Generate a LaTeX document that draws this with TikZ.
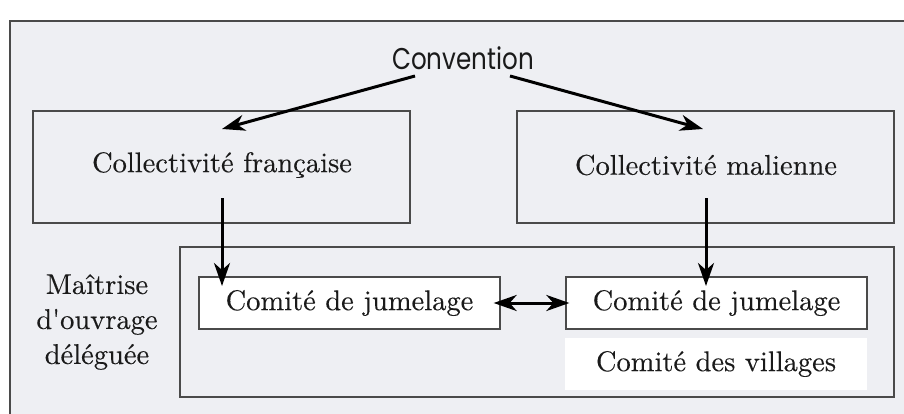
\documentclass[tikz,border=0pt]{standalone}
\usepackage{fontspec}
\setmainfont{lmroman10-regular.otf}[FakeBold=0.25]
\newfontfamily\convfont{Poppins}
\usetikzlibrary{arrows.meta}
\definecolor{panel}{HTML}{EEEFF3}
\definecolor{rule}{HTML}{4A4A4A}
\definecolor{ink}{HTML}{1A1A1A}
\tikzset{
  boxframe/.style={draw=rule, line width=1.3pt},
  whitebox/.style={draw=rule, line width=1.3pt, fill=white},
  serif/.style={text=ink, font=\fontsize{28.5}{34}\selectfont},
  arr/.style={draw=black, line width=3pt, -{Stealth[length=23pt,width=16pt,inset=7pt]}},
  dblarr/.style={draw=black, line width=3pt, {Stealth[length=23pt,width=16pt,inset=7pt]}-{Stealth[length=23pt,width=16pt,inset=7pt]}}
}
\begin{document}
\begin{tikzpicture}[x=1pt,y=-1pt]
\useasboundingbox (0,0) rectangle (904,414);
\clip (0,0) rectangle (904,414);
% page backdrop and outer panel
\fill[white] (0,0) rectangle (904,414);
\filldraw[fill=panel, draw=rule, line width=1.3pt] (10,21) rectangle (920,430);

% title
\node[text=ink, font=\convfont\fontsize{30}{34}\selectfont] (conv) at (463,58) {\scalebox{0.82}[1]{Convention}};

% the two local authorities
\draw[boxframe] (33,111) rectangle (410,223);
\node[serif] (fr) at (222,165) {Collectivité française};
\draw[boxframe] (517,111) rectangle (894,223);
\node[serif] (ml) at (706,165) {Collectivité malienne};

% delegated project ownership area
\draw[boxframe] (180,247) rectangle (894,397);
\node[serif, align=center, font=\fontsize{28.5}{35}\selectfont] (moa) at (97,322) {Maîtrise\\d\textquotesingle ouvrage\\déléguée};

\node[whitebox, minimum width=301pt, minimum height=52pt, serif] (jl) at (349.5,303) {Comité de jumelage};
\node[whitebox, minimum width=301pt, minimum height=52pt, serif] (jr) at (716.5,303) {Comité de jumelage};
\node[fill=white, minimum width=302pt, minimum height=52pt, serif] (cv) at (716,364) {Comité des villages};

% arrow end points
\coordinate (convL) at (415,76);
\coordinate (convR) at (510,76);
\coordinate (frTip) at (222,129);
\coordinate (mlTip) at (703,129);
\coordinate (frFoot) at (222,198);
\coordinate (mlFoot) at (706,198);
\coordinate (jlTip) at (222,286);
\coordinate (jrTip) at (706,286);

\draw[arr] (convL) -- (frTip);
\draw[arr] (convR) -- (mlTip);
\draw[arr] (frFoot) -- (jlTip);
\draw[arr] (mlFoot) -- (jrTip);
\draw[dblarr, shorten <=-7pt, shorten >=-4pt] (jl.east) -- (jr.west);
\end{tikzpicture}
\end{document}
